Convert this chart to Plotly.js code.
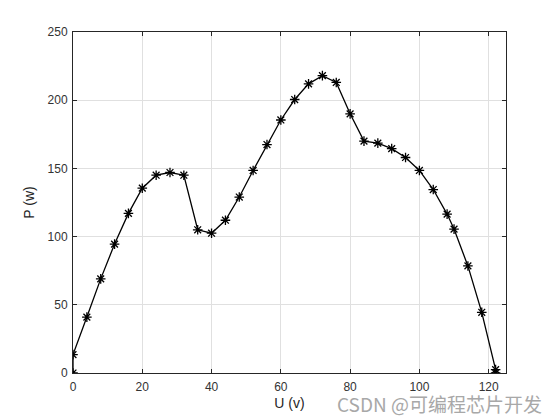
<!DOCTYPE html>
<html>
<head>
<meta charset="utf-8">
<script src="https://cdn.plot.ly/plotly-3.0.1.min.js"></script>
<style>html,body{margin:0;padding:0;background:#fff;}#chart{width:560px;height:420px;}</style>
</head>
<body>
<div id="chart"></div>
<script>
const U = [0, 0, 4, 8, 12, 16, 20, 24, 28, 32, 36, 40, 44, 48, 52, 56, 60, 64, 68, 72, 76, 80, 84, 88, 92, 96, 100, 104, 108, 110, 114, 118, 122, 122];
const P = [0, 13.5, 41, 69, 94.5, 117, 135.5, 145, 147, 145, 105, 102.5, 112, 129, 148.5, 167.5, 185.5, 200.5, 212, 218, 213, 190, 170, 168.5, 164.5, 158, 148.5, 134.5, 116.5, 105.5, 78.5, 44.5, 2.5, 0];
const xTicks = [0, 20, 40, 60, 80, 100, 120];
const yTicks = [0, 50, 100, 150, 200, 250];

const trace = {
  x: U, y: P, type: 'scatter', mode: 'lines+markers',
  line: {color: '#000', width: 1.3},
  marker: {symbol: 'asterisk-open', size: 8, color: '#000', line: {color: '#000', width: 1.3}},
  hoverinfo: 'none', showlegend: false
};

const FONT = 'Liberation Sans, Arial, sans-serif';
const axisCommon = {
  showline: true, linecolor: '#262626', linewidth: 1, mirror: 'ticks',
  ticks: 'inside', ticklen: 4, tickcolor: '#262626', tickwidth: 1,
  showgrid: true, gridcolor: '#e0e0e0', gridwidth: 1, zeroline: false,
  tickfont: {family: FONT, size: 12, color: '#333333'}
};

const layout = {
  width: 560, height: 420,
  margin: {l: 73, r: 54, t: 32, b: 47},
  paper_bgcolor: '#fff', plot_bgcolor: '#fff',
  xaxis: Object.assign({}, axisCommon, {
    range: [0, 125], tickvals: xTicks, ticktext: xTicks.map(String), ticklabelstandoff: 3,
    title: {text: 'U (v)', font: {family: FONT, size: 14, color: '#262626'}, standoff: 4}
  }),
  yaxis: Object.assign({}, axisCommon, {
    range: [0, 250], tickvals: yTicks, ticktext: yTicks.map(String), ticklabelstandoff: 2,
    title: {text: 'P (w)', font: {family: FONT, size: 14, color: '#262626'}, standoff: 9}
  }),
  annotations: [{
    xref: 'paper', yref: 'paper', x: 1.088, y: -0.09, xanchor: 'right', yanchor: 'middle',
    text: 'CSDN @可编程芯片开发', showarrow: false,
    font: {family: 'Noto Sans CJK SC, Liberation Sans, sans-serif', size: 19, color: '#a8a8a8'}
  }]
};

Plotly.newPlot('chart', [trace], layout, {staticPlot: true, displayModeBar: false});
</script>
</body>
</html>
